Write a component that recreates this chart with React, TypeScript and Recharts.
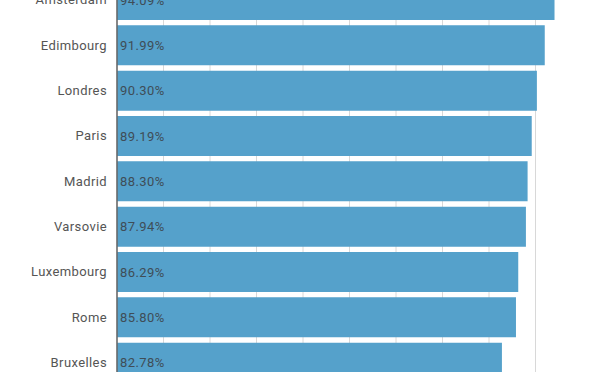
import React from "react";
import { BarChart, Bar, XAxis, YAxis, CartesianGrid, LabelList } from "recharts";

const cities = ["Amsterdam", "Edimbourg", "Londres", "Paris", "Madrid", "Varsovie", "Luxembourg", "Rome", "Bruxelles"];
const rates = [94.09, 91.99, 90.3, 89.19, 88.3, 87.94, 86.29, 85.8, 82.78];
const xTicks = [0, 10, 20, 30, 40, 50, 60, 70, 80, 90];
const xMax = 100;

const data = cities.map((c, i) => ({ city: c, rate: rates[i] }));

export default function App() {
  return (
    <div style={{ position: "absolute", left: 0, top: 0, width: 600, height: 372, overflow: "hidden", background: "#fff" }}>
      <div style={{ position: "absolute", left: 0, top: -23 }}>
        <BarChart
          width={600}
          height={420}
          data={data}
          layout="vertical"
          margin={{ top: 0, right: 18, bottom: 12, left: 0 }}
          style={{ fontFamily: "Roboto, 'Noto Sans', sans-serif" }}
        >
          <CartesianGrid
            horizontal={false}
            stroke="#d8d8d8"
            verticalCoordinatesGenerator={(props: any) => {
              const scale = props?.xAxis?.scale;
              if (typeof scale === "function") return xTicks.map((t) => scale(t));
              if (scale && typeof scale.map === "function") return xTicks.map((t) => scale.map(t));
              const off = props.offset;
              return xTicks.map((t) => off.left + (t / xMax) * off.width);
            }}
          />
          <XAxis type="number" domain={[0, xMax]} ticks={xTicks} hide />
          <YAxis
            type="category"
            dataKey="city"
            width={117}
            tickSize={0}
            tickMargin={10}
            axisLine={{ stroke: "#666", strokeWidth: 1.5 }}
            tick={{ fill: "#555", fontSize: 13, letterSpacing: 0.4 }}
          />
          <Bar dataKey="rate" fill="#55a1cb" barSize={40} isAnimationActive={false}>
            <LabelList
              dataKey="rate"
              position="insideLeft"
              offset={3}
              formatter={(v: number) => `${v.toFixed(2)}%`}
              style={{ fill: "#3f4d57", fontSize: 13, letterSpacing: 0.4 }}
            />
          </Bar>
        </BarChart>
      </div>
    </div>
  );
}
